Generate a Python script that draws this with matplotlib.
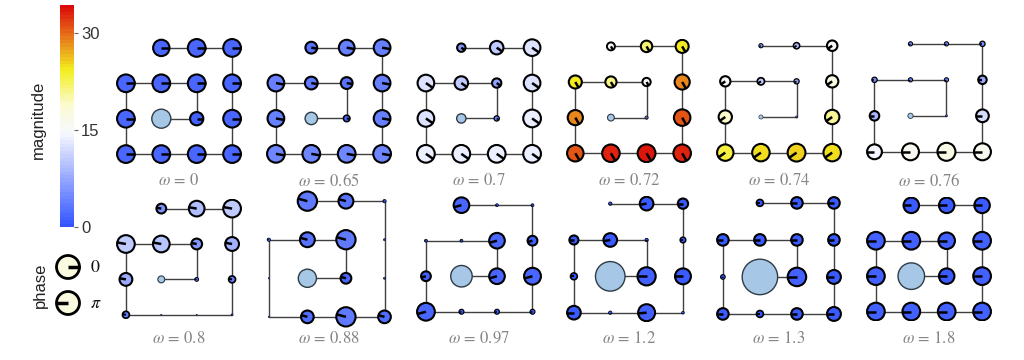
import matplotlib
matplotlib.use("Agg")
import matplotlib.pyplot as plt
from matplotlib.colors import LinearSegmentedColormap, Normalize
from matplotlib.cm import ScalarMappable
from matplotlib.patches import Circle
import numpy as np

plt.rcParams['font.family'] = ['Liberation Sans', 'DejaVu Sans']
plt.rcParams['mathtext.fontset'] = 'stix'

# driving frequencies, one panel each
omegas = ['0', '0.65', '0.7', '0.72', '0.74', '0.76',
          '0.8', '0.88', '0.97', '1.2', '1.3', '1.8']

# magnitude of the driven (centre) site
center_mag = [2.15, 3.15, 7.1, 12.8, 5.9, 5.0,
              4.1, 3.3, 2.42, 1.95, 2.3, 1.8]

# magnitude along the chain, from the centre outwards
magnitude = [
    [1.5, 2.0, 2.0, 2.0, 2.0, 2.0, 2.0, 2.0, 2.0, 2.0, 2.0, 2.0, 2.0, 1.85],
    [1.65, 3.0, 3.25, 4.25, 4.25, 4.5, 4.5, 4.5, 4.5, 4.25, 4.25, 4.25, 4.0, 3.0],
    [4.0, 7.1, 10.3, 12.7, 12.7, 13.5, 13.5, 13.5, 13.5, 13.5, 12.7, 12.7, 10.3, 6.4],
    [6.0, 15.5, 21.0, 24.5, 28.5, 31.0, 33.0, 33.5, 33.0, 31.0, 28.5, 24.5, 21.5, 15.0],
    [3.0, 7.4, 10.3, 14.7, 19.0, 23.5, 25.0, 25.5, 25.0, 20.6, 17.6, 15.0, 9.0, 6.0],
    [2.0, 4.0, 4.0, 5.0, 9.0, 14.0, 16.0, 17.0, 16.0, 12.0, 8.0, 5.0, 4.0, 4.0],
    [2.3, 6.4, 9.9, 10.5, 7.6, 4.1, 0.8, 0.8, 1.2, 4.1, 8.2, 10.5, 9.3, 5.8],
    [1.95, 3.5, 2.7, 0.6, 0.27, 0.27, 2.3, 3.5, 2.3, 0.4, 0.4, 0.6, 2.7, 3.5],
    [1.76, 1.76, 0.33, 0.33, 1.1, 2.0, 0.55, 0.55, 0.55, 1.9, 1.1, 0.33, 0.33, 1.76],
    [1.2, 0.22, 0.9, 0.6, 0.45, 0.9, 0.22, 1.12, 0.18, 1.05, 0.38, 0.68, 0.9, 0.22],
    [1.2, 0.75, 0.75, 0.75, 0.3, 0.75, 0.45, 0.75, 0.9, 0.9, 0.75, 0.75, 0.75, 0.45],
    [1.05, 1.12, 1.2, 1.2, 1.2, 1.2, 1.2, 1.2, 1.2, 1.2, 1.2, 1.05, 1.05, 1.05],
]

# phase (degrees) along the chain
phase_deg = [
    [0] * 14,
    [-10] * 14,
    [-35] * 14,
    [-60] * 14,
    [215] * 14,
    [180] * 14,
    [170] * 14,
    [165] * 14,
    [195] * 14,
    [180, 180, 190, 180, 180, 180, 180, 185, 180, 180, 180, 180, 190, 180],
    [180] * 14,
    [180] * 14,
]

# spiral path: driven site first
path = [(1, 1), (2, 1), (2, 2), (1, 2), (0, 2), (0, 1), (0, 0), (1, 0),
        (2, 0), (3, 0), (3, 1), (3, 2), (3, 3), (2, 3), (1, 3)]

cmap = LinearSegmentedColormap.from_list(
    'mag', [(0.0, '#3355ff'), (0.42, '#f6f8ff'), (0.55, '#fbfbd2'),
            (0.71, '#f3ee1e'), (0.85, '#e8801c'), (1.0, '#dc0a0a')], N=64)
norm = Normalize(0, 34.3)

W, H = 1024, 360
fig = plt.figure(figsize=(W / 100, H / 100), dpi=100)

for k, w in enumerate(omegas):
    row, col = divmod(k, 6)
    cx = 179 + 150 * col
    cy = 101 if row == 0 else 259
    ax = fig.add_axes([(cx - 63) / W, 1 - (cy + 69) / H, 126 / W, 138 / H])
    ax.set_aspect('equal', adjustable='box')
    ax.axis('off')

    xs = [p[0] for p in path]
    ys = [p[1] for p in path]
    ax.plot(xs, ys, color='#404040', lw=1.0, zorder=1, solid_capstyle='butt')

    mags = [center_mag[k]] + magnitude[k]
    mmax = max(magnitude[k])
    radii = [0.25 * m / mmax for m in mags]

    for i, (x, y) in enumerate(path):
        r = radii[i]
        s = min(1.0, r / 0.12)
        if i == 0:
            ax.add_patch(Circle((x, y), r, facecolor='#a6c8e6', edgecolor='#2f3b45',
                                lw=1.0 * s, zorder=2))
            continue
        ax.add_patch(Circle((x, y), r, facecolor=cmap(norm(mags[i])),
                            edgecolor='black', lw=1.5 * s, zorder=2))
        ph = np.deg2rad(phase_deg[k][i - 1])
        ax.plot([x, x + r * np.cos(ph)], [y, y + r * np.sin(ph)],
                color='black', lw=1.8 * s, zorder=3, solid_capstyle='butt')

    xmin = min(x - r for (x, y), r in zip(path, radii))
    xmax = max(x + r for (x, y), r in zip(path, radii))
    ymin = min(y - r for (x, y), r in zip(path, radii))
    ymax = max(y + r for (x, y), r in zip(path, radii))
    ax.set_xlim(xmin - 0.03, xmax + 0.03)
    ax.set_ylim(ymin - 0.03, ymax + 0.03)

    fig.text(cx / W, 1 - (cy + 79) / H, r'$\omega\,=\,%s$' % w, color='#858585',
             fontsize=12, ha='center', va='center')

# colorbar
cax = fig.add_axes([60 / W, 1 - 227 / H, 14 / W, 222 / H])
cb = fig.colorbar(ScalarMappable(norm=norm, cmap=cmap), cax=cax, ticks=[0, 15, 30])
cb.outline.set_visible(False)
cax.tick_params(length=3, width=0.8, color='#666666', labelsize=12, pad=2,
                labelcolor='#333333')
fig.text(38 / W, 1 - 120 / H, 'magnitude', rotation=90, ha='center', va='center',
         fontsize=12, color='#222222')

# phase legend
lax = fig.add_axes([0, 0, 1, 1])
lax.set_xlim(0, W)
lax.set_ylim(H, 0)
lax.axis('off')
for yy, ang, lab in [(267, 0.0, r'$0$'), (303, np.pi, r'$\pi$')]:
    lax.add_patch(Circle((68, yy), 11.5, facecolor='#fafae0', edgecolor='black',
                         lw=2.0, zorder=2))
    lax.plot([68, 68 + 11.5 * np.cos(ang)], [yy, yy], color='black', lw=2.5,
             zorder=3, solid_capstyle='butt')
    lax.text(90, yy, lab, fontsize=13, ha='left', va='center', color='#111111')
fig.text(40 / W, 1 - 285 / H, 'phase', rotation=90, ha='center', va='center',
         fontsize=12, color='#222222')

fig.savefig('out.png', dpi=100)
